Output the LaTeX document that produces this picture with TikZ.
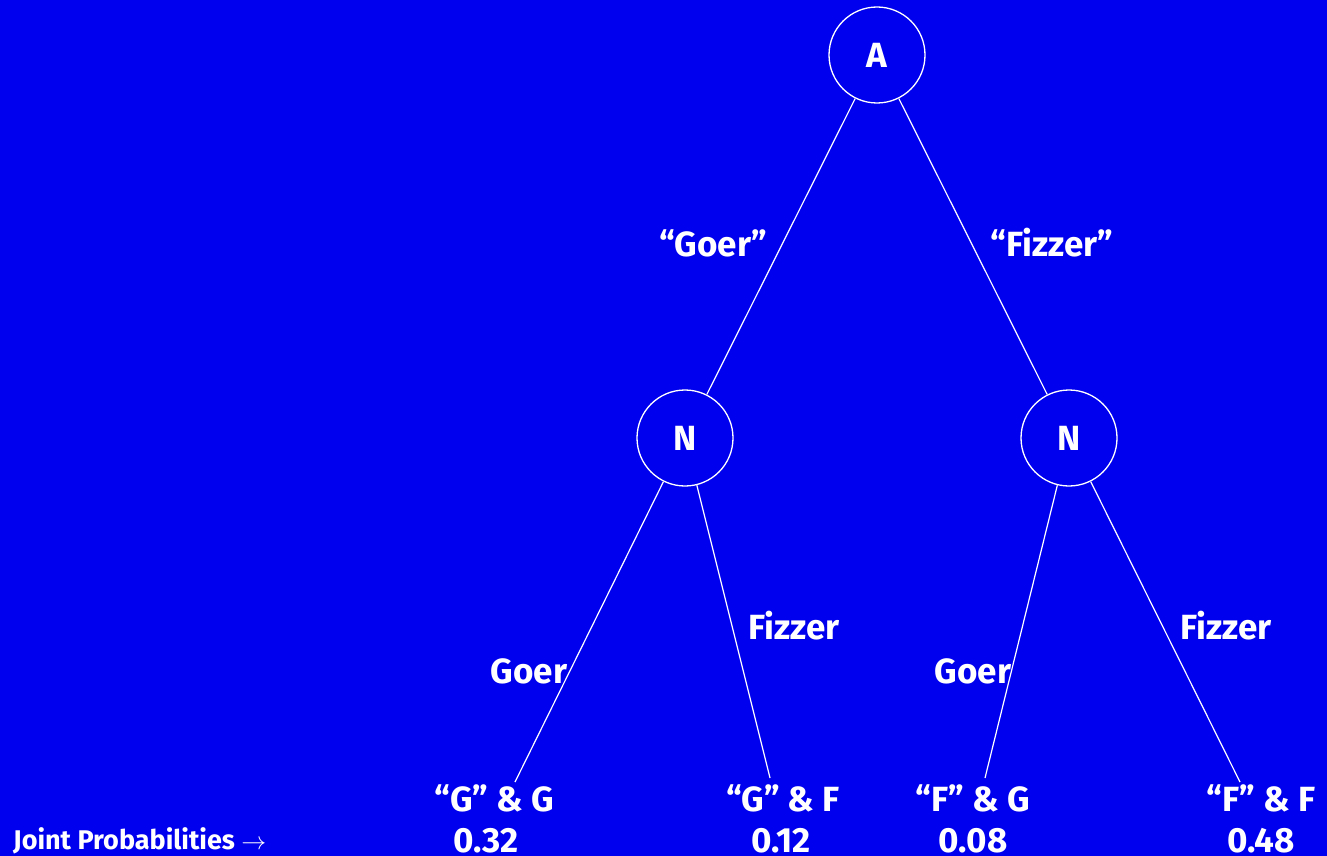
\documentclass[tikz,border=0pt]{standalone}
\usepackage{fontspec}
\setmainfont{Fira Sans}
\definecolor{bg}{RGB}{0,0,238}
\begin{document}
\begin{tikzpicture}[x=1pt,y=-1pt,
  every node/.style={text=white,font=\bfseries\fontsize{35}{40}\selectfont},
  state/.style={circle,draw=white,line width=1.3pt,minimum size=96pt,inner sep=0pt},
  edge/.style={draw=white,line width=1.2pt},
  lab/.style={inner sep=0pt,anchor=base,text depth=0pt},
  small/.style={inner sep=0pt,anchor=base west,text depth=0pt,font=\bfseries\fontsize{27}{30}\selectfont}]
\fill[bg] (0,0) rectangle (1327,856);
\useasboundingbox (0,0) rectangle (1327,856);
\node[state] (A) at (877,55) {A};
\node[state] (N1) at (685,438) {N};
\node[state] (N2) at (1069,438) {N};
\coordinate (L1) at (515,782);
\coordinate (L2) at (770,778);
\coordinate (L3) at (985,778);
\coordinate (L4) at (1240,782);
\draw[edge] (A) -- (N1);
\draw[edge] (A) -- (N2);
\draw[edge] (N1) -- (L1);
\draw[edge] (N1) -- (L2);
\draw[edge] (N2) -- (L3);
\draw[edge] (N2) -- (L4);
\node[lab] (tg) at (713,256) {“Goer”};
\node[lab] (tf) at (1052,256) {“Fizzer”};
\node[lab] (g1) at (529,683) {Goer};
\node[lab] (f1) at (794,639) {Fizzer};
\node[lab] (g2) at (973,683) {Goer};
\node[lab] (f2) at (1226,639) {Fizzer};
\node[lab] (o1) at (494,811) {“G” \& G};
\node[lab] (o2) at (783,811) {“G” \& F};
\node[lab] (o3) at (973,811) {“F” \& G};
\node[lab] (o4) at (1261,811) {“F” \& F};
\node[lab] (p1) at (486,852) {0.32};
\node[lab] (p2) at (781,852) {0.12};
\node[lab] (p3) at (973,852) {0.08};
\node[lab] (p4) at (1261,852) {0.48};
\node[small] (jp) at (13,849) {Joint Probabilities $\rightarrow$};
\end{tikzpicture}
\end{document}
